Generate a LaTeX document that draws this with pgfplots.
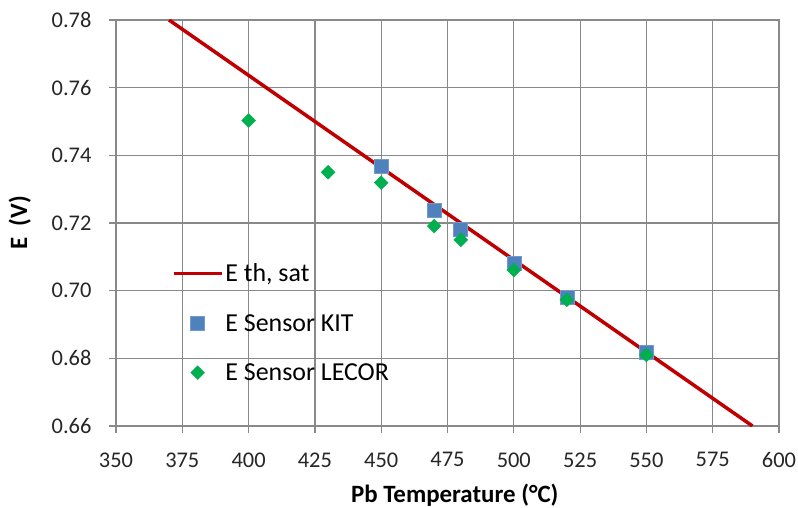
\documentclass[border=0pt]{standalone}
\usepackage{pgfplots}
\pgfplotsset{compat=1.18}
\usepackage{fontspec}
\setmainfont{Carlito}

\definecolor{thred}{HTML}{C00000}
\definecolor{kitblue}{HTML}{4F81BD}
\definecolor{lecgreen}{HTML}{00B050}
\definecolor{gridgray}{HTML}{898989}

\pgfplotsset{
    lineleg/.style={legend image code/.code={\draw[##1] (0bp,0bp) -- (48bp,0bp);}},
    markleg/.style={legend image code/.code={\draw[##1] plot coordinates {(24bp,0bp)};}},
}

\begin{document}
\begin{tikzpicture}
\begin{axis}[
    scale only axis,
    width=663bp, height=406bp,
    xmin=350, xmax=600,
    ymin=0.66, ymax=0.78,
    xtick={350,375,...,600},
    ytick={0.66,0.68,0.70,0.72,0.74,0.76,0.78},
    /pgf/number format/assume math mode=true,
    yticklabel style={xshift=-14bp, /pgf/number format/.cd, fixed, fixed zerofill, precision=2},
    xticklabel style={yshift=-16bp, /pgf/number format/1000 sep={}},
    tick label style={font=\fontsize{22.5}{26}\selectfont, text=black!85},
    tick pos=left, tick align=outside,
    major tick length=7bp,
    axis line style={gridgray, line width=1.2bp},
    every tick/.style={gridgray, line width=1.2bp},
    grid=major,
    grid style={gridgray, line width=1.2bp},
    xlabel={\textbf{Pb Temperature (°C)}},
    ylabel={\textbf{E\ \ (V)}},
    label style={font=\fontsize{25}{30}\selectfont},
    xlabel style={at={(axis description cs:0.511,-0.17)}, anchor=center},
    ylabel style={at={(axis description cs:-0.145,0.5)}, anchor=center},
    legend cell align=left,
    legend style={draw=none, fill=none, font=\fontsize{26}{30}\selectfont,
        at={(axis cs:371,0.7086)}, anchor=north west,
        row sep=27bp, inner sep=0pt},
]
\addplot[thred, line width=3.5bp, lineleg]
    coordinates {(370,0.78) (590,0.66)};
\addlegendentry{E th, sat}

\addplot[only marks, mark=square*, mark size=7bp,
    mark options={fill=kitblue, draw=kitblue!80!white, line width=0.6bp}, markleg]
    coordinates {
    (450,0.7369) (470,0.7239) (480,0.7180) (500,0.7081) (520,0.6981) (550,0.6819)
    };
\addlegendentry{E Sensor KIT}

\addplot[only marks, mark=square*, mark size=4.9bp,
    mark options={rotate=45, fill=lecgreen, draw=lecgreen}, markleg]
    coordinates {
    (400,0.7503) (430,0.7350) (450,0.7319) (470,0.7191) (480,0.7150)
    (500,0.7061) (520,0.6973) (550,0.6810)
    };
\addlegendentry{E Sensor LECOR}
\end{axis}
\pgfresetboundingbox
\path ([shift={(-116bp,-82bp)}]current axis.south west) rectangle ([shift={(19bp,20bp)}]current axis.north east);
\end{tikzpicture}
\end{document}
